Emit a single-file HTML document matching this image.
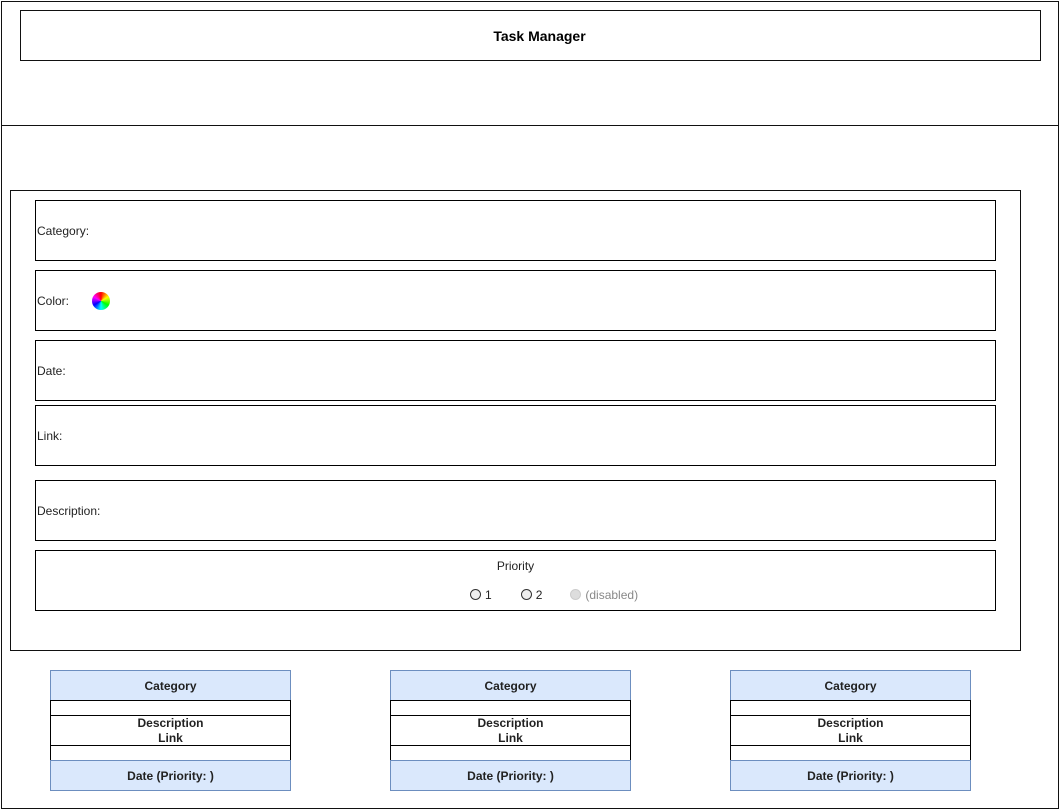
<!DOCTYPE html>
<html><head><meta charset="utf-8"><style>
body{margin:0;width:1061px;height:811px;background:#fff;position:relative;overflow:hidden;font-family:"Liberation Sans",sans-serif;}
.a,.a div{position:absolute;box-sizing:border-box}
.f{border:1px solid #000;font-size:12px;color:#222;display:flex;align-items:center;padding-left:1px}
.b{left:0;width:241px;background:#dae8fc;border:1px solid #6c8ebf;font-size:12px;font-weight:bold;color:#222;display:flex;align-items:center;justify-content:center;text-align:center}
.w{left:0;width:241px;background:#fff;border:1px solid #000;font-size:12px;font-weight:bold;color:#222;display:flex;align-items:center;justify-content:center;text-align:center;line-height:15px}
.r{display:inline-block;width:9px;height:9px;border:1px solid #333;border-radius:50%;vertical-align:-1px;margin-right:4px;background:#eee}
</style></head><body>
<div class="a" style="left:1px;top:1px;width:1058px;height:808px;border:1.5px solid #111"></div>
<div class="a" style="left:20px;top:10px;width:1021px;height:51px;border:1.5px solid #111;display:flex;align-items:center;justify-content:center;padding-left:18px;font-weight:bold;font-size:14px">Task Manager</div>
<div class="a" style="left:1px;top:125px;width:1058px;height:0;border-top:1.5px solid #111"></div>
<div class="a" style="left:10px;top:190px;width:1011px;height:461px;border:1.5px solid #111"></div>
<div class="a f" style="left:35px;top:200px;width:961px;height:61px">Category:</div>
<div class="a f" style="left:35px;top:270px;width:961px;height:61px">Color:<span style="display:inline-block;width:18px;height:18px;border-radius:50%;margin-left:23px;background:conic-gradient(red,#ff0,#0f0,#0ff,#00f,#f0f,red)"></span></div>
<div class="a f" style="left:35px;top:340px;width:961px;height:61px">Date:</div>
<div class="a f" style="left:35px;top:405px;width:961px;height:61px">Link:</div>
<div class="a f" style="left:35px;top:480px;width:961px;height:61px">Description:</div>
<div class="a" style="left:35px;top:550px;width:961px;height:61px;border:1px solid #000;font-size:12px;color:#222">
<div style="top:8px;width:100%;text-align:center">Priority</div>
<div style="top:37px;left:434px;white-space:nowrap"><span class="r"></span>1<span style="display:inline-block;width:29px"></span><span class="r"></span>2<span style="display:inline-block;width:28px"></span><span class="r" style="border-color:#ccc;background:#ddd"></span><span style="color:#888">(disabled)</span></div>
</div>
<div class="a" style="left:50px;top:670px;width:241px;height:121px">
<div class="b" style="top:0;height:31px">Category</div><div class="w" style="top:30px;height:16px"></div><div class="w" style="top:45px;height:31px">Description<br>Link</div><div class="w" style="top:75px;height:16px"></div><div class="b" style="top:90px;height:31px">Date (Priority: )</div></div>
<div class="a" style="left:390px;top:670px;width:241px;height:121px">
<div class="b" style="top:0;height:31px">Category</div><div class="w" style="top:30px;height:16px"></div><div class="w" style="top:45px;height:31px">Description<br>Link</div><div class="w" style="top:75px;height:16px"></div><div class="b" style="top:90px;height:31px">Date (Priority: )</div></div>
<div class="a" style="left:730px;top:670px;width:241px;height:121px">
<div class="b" style="top:0;height:31px">Category</div><div class="w" style="top:30px;height:16px"></div><div class="w" style="top:45px;height:31px">Description<br>Link</div><div class="w" style="top:75px;height:16px"></div><div class="b" style="top:90px;height:31px">Date (Priority: )</div></div>
</body></html>
